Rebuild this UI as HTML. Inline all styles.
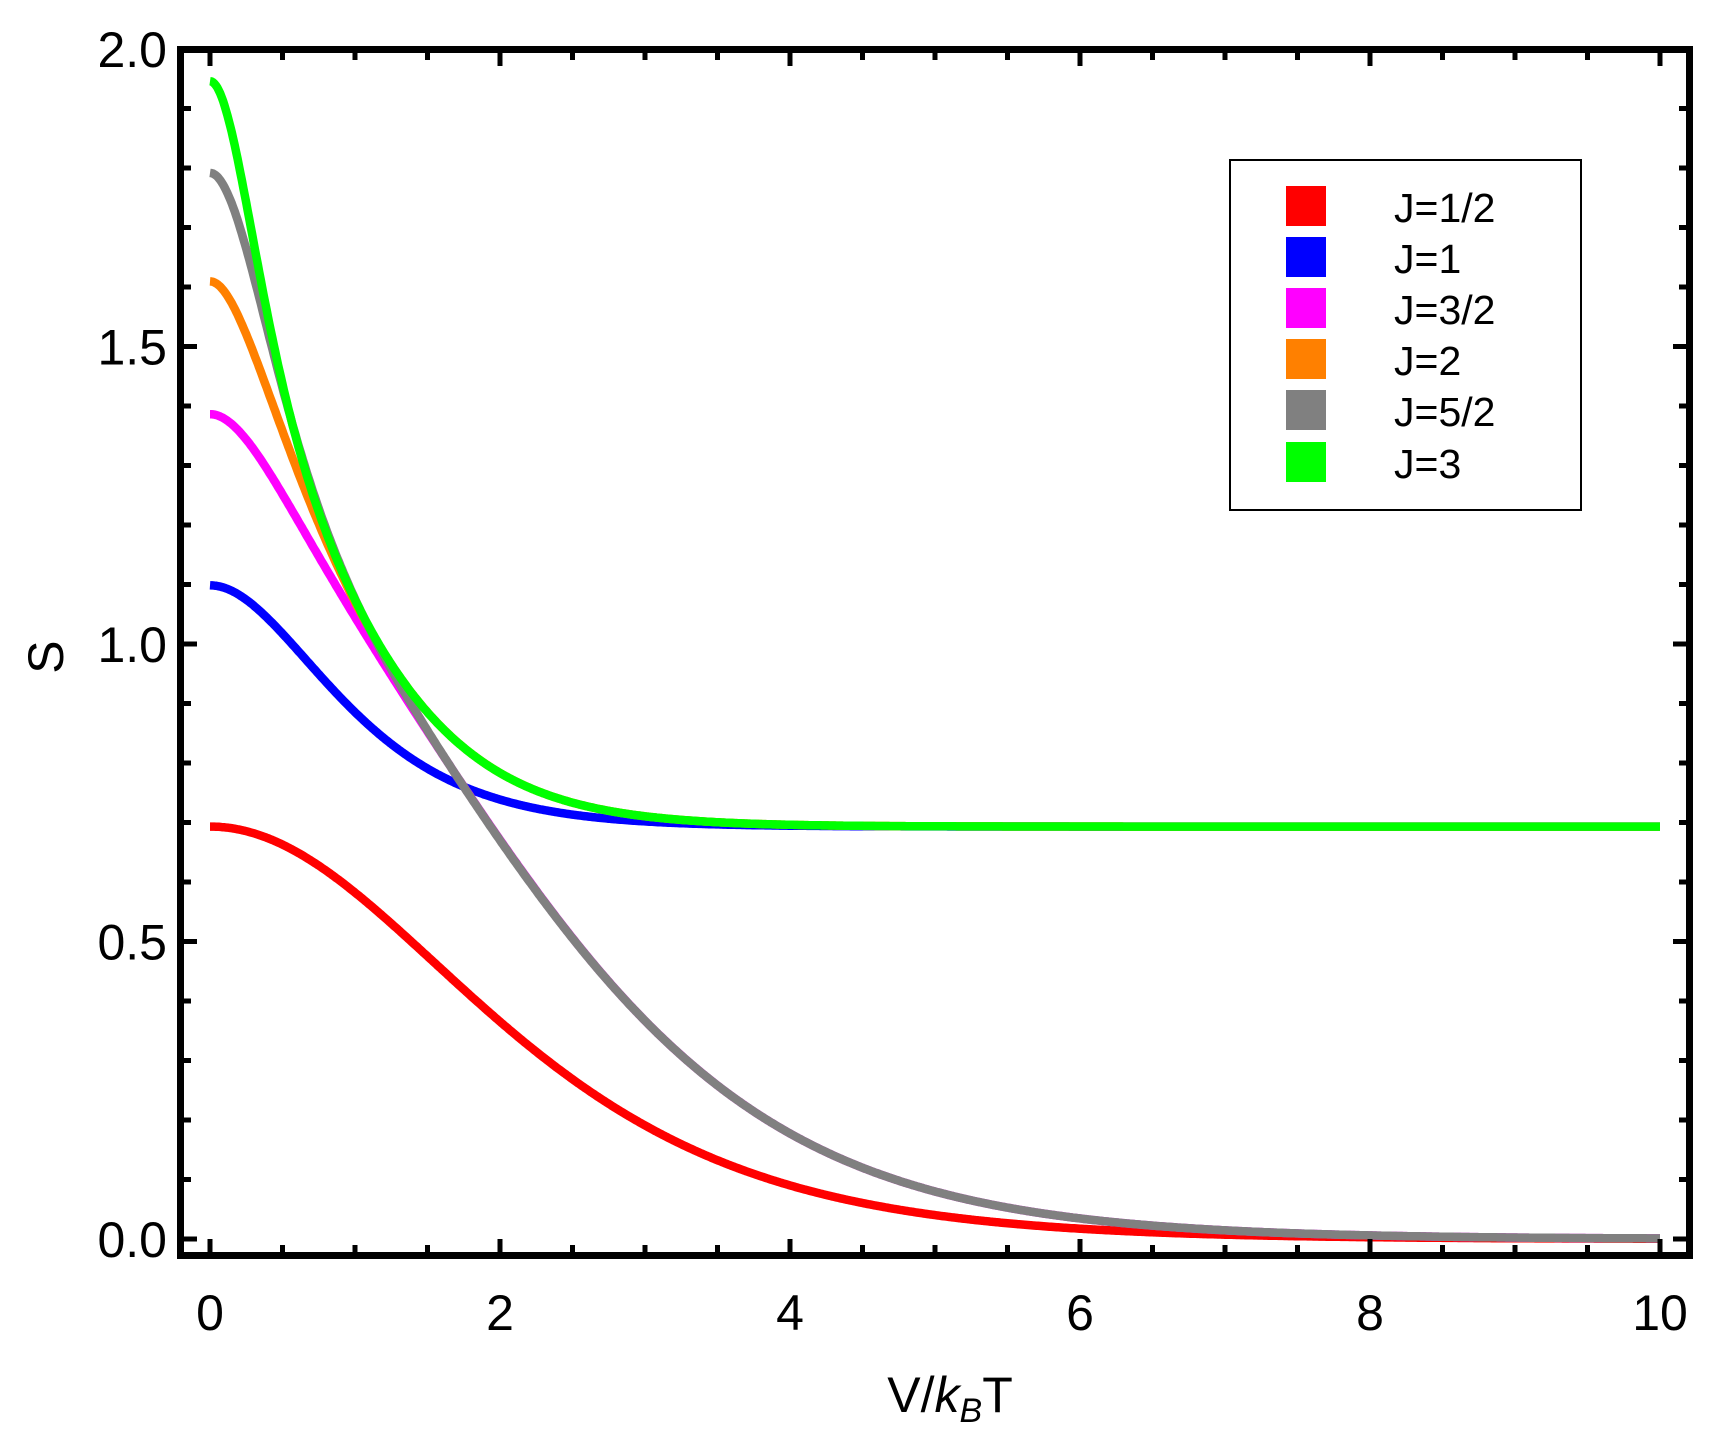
<!DOCTYPE html>
<html><head><meta charset="utf-8"><style>html,body{margin:0;padding:0;background:#fff}</style></head>
<body>
<svg id="s" width="1714" height="1434" xmlns="http://www.w3.org/2000/svg" font-family="Liberation Sans, sans-serif">
<rect width="1714" height="1434" fill="#fff"/>
<g id="curves" fill="none" stroke-width="8.5" stroke-linejoin="round"></g>
<g id="ticks" stroke="#000"></g>
<rect x="180.5" y="49.5" width="1509" height="1206" fill="none" stroke="#000" stroke-width="7"/>
<g id="labels" font-size="50" fill="#000"></g>
<text x="50" y="657" font-size="50" text-anchor="middle" transform="rotate(-90 50 657)" dominant-baseline="middle">S</text>
<text x="950" y="1412" font-size="50" text-anchor="middle">V/<tspan font-style="italic">k</tspan><tspan font-style="italic" font-size="34" dy="10">B</tspan><tspan dy="-10">T</tspan></text>
<rect x="1230" y="160" width="351" height="350" fill="#fff" stroke="#000" stroke-width="2"/>
<g font-size="41">
<rect x="1286" y="186" width="40" height="40" fill="#ff0000"/><text x="1394" y="222">J=1/2</text>
<rect x="1286" y="237" width="40" height="40" fill="#0000ff"/><text x="1394" y="273">J=1</text>
<rect x="1286" y="288" width="40" height="40" fill="#ff00ff"/><text x="1394" y="324">J=3/2</text>
<rect x="1286" y="339" width="40" height="40" fill="#ff8000"/><text x="1394" y="375">J=2</text>
<rect x="1286" y="390" width="40" height="40" fill="#808080"/><text x="1394" y="426">J=5/2</text>
<rect x="1286" y="442" width="40" height="40" fill="#00ff00"/><text x="1394" y="478">J=3</text>
</g>
</svg>
<script>
var NS="http://www.w3.org/2000/svg";
function px(x){return 210+145*x;} function py(s){return 1239-595*s;}
var series=[
 ["#ff0000",[0,1]],
 ["#0000ff",[0,0,2]],
 ["#ff00ff",[0,1,1,3.5]],
 ["#ff8000",[0,0,2,2,5.4]],
 ["#808080",[0,1,1,4,4,6.5]],
 ["#00ff00",[0,0,2,2,6,6,8]]
];
function S(lv,x){var Z=0,E=0;for(var i=0;i<lv.length;i++){var w=Math.exp(-lv[i]*x);Z+=w;E+=lv[i]*x*w;}return Math.log(Z)+E/Z;}
var cg=document.getElementById("curves");
series.forEach(function(s){var d="";for(var i=0;i<=1000;i++){var x=i/100;d+=(i?"L":"M")+px(x).toFixed(1)+","+py(S(s[1],x)).toFixed(1);}
var p=document.createElementNS(NS,"path");p.setAttribute("d",d);p.setAttribute("stroke",s[0]);cg.appendChild(p);});
var tg=document.getElementById("ticks"),lg=document.getElementById("labels");
function line(x1,y1,x2,y2,w){var l=document.createElementNS(NS,"line");l.setAttribute("x1",x1);l.setAttribute("y1",y1);l.setAttribute("x2",x2);l.setAttribute("y2",y2);l.setAttribute("stroke-width",w);tg.appendChild(l);}
function txt(x,y,t,a){var e=document.createElementNS(NS,"text");e.setAttribute("x",x);e.setAttribute("y",y);e.setAttribute("text-anchor",a);e.textContent=t;lg.appendChild(e);}
for(var i=0;i<=20;i++){var x=px(i/2),maj=i%4==0,L=maj?14:8;
 line(x,52,x,52+L,5);line(x,1253,x,1253-L,5);
 if(maj)txt(x,1330,String(i/2),"middle");}
for(var j=0;j<=20;j++){var y=py(j/10),maj=j%5==0,L=maj?14:8;
 line(183,y,183+L,y,5);line(1687,y,1687-L,y,5);
 if(maj)txt(167,y+18,(j/10).toFixed(1),"end");}
</script>
</body></html>
